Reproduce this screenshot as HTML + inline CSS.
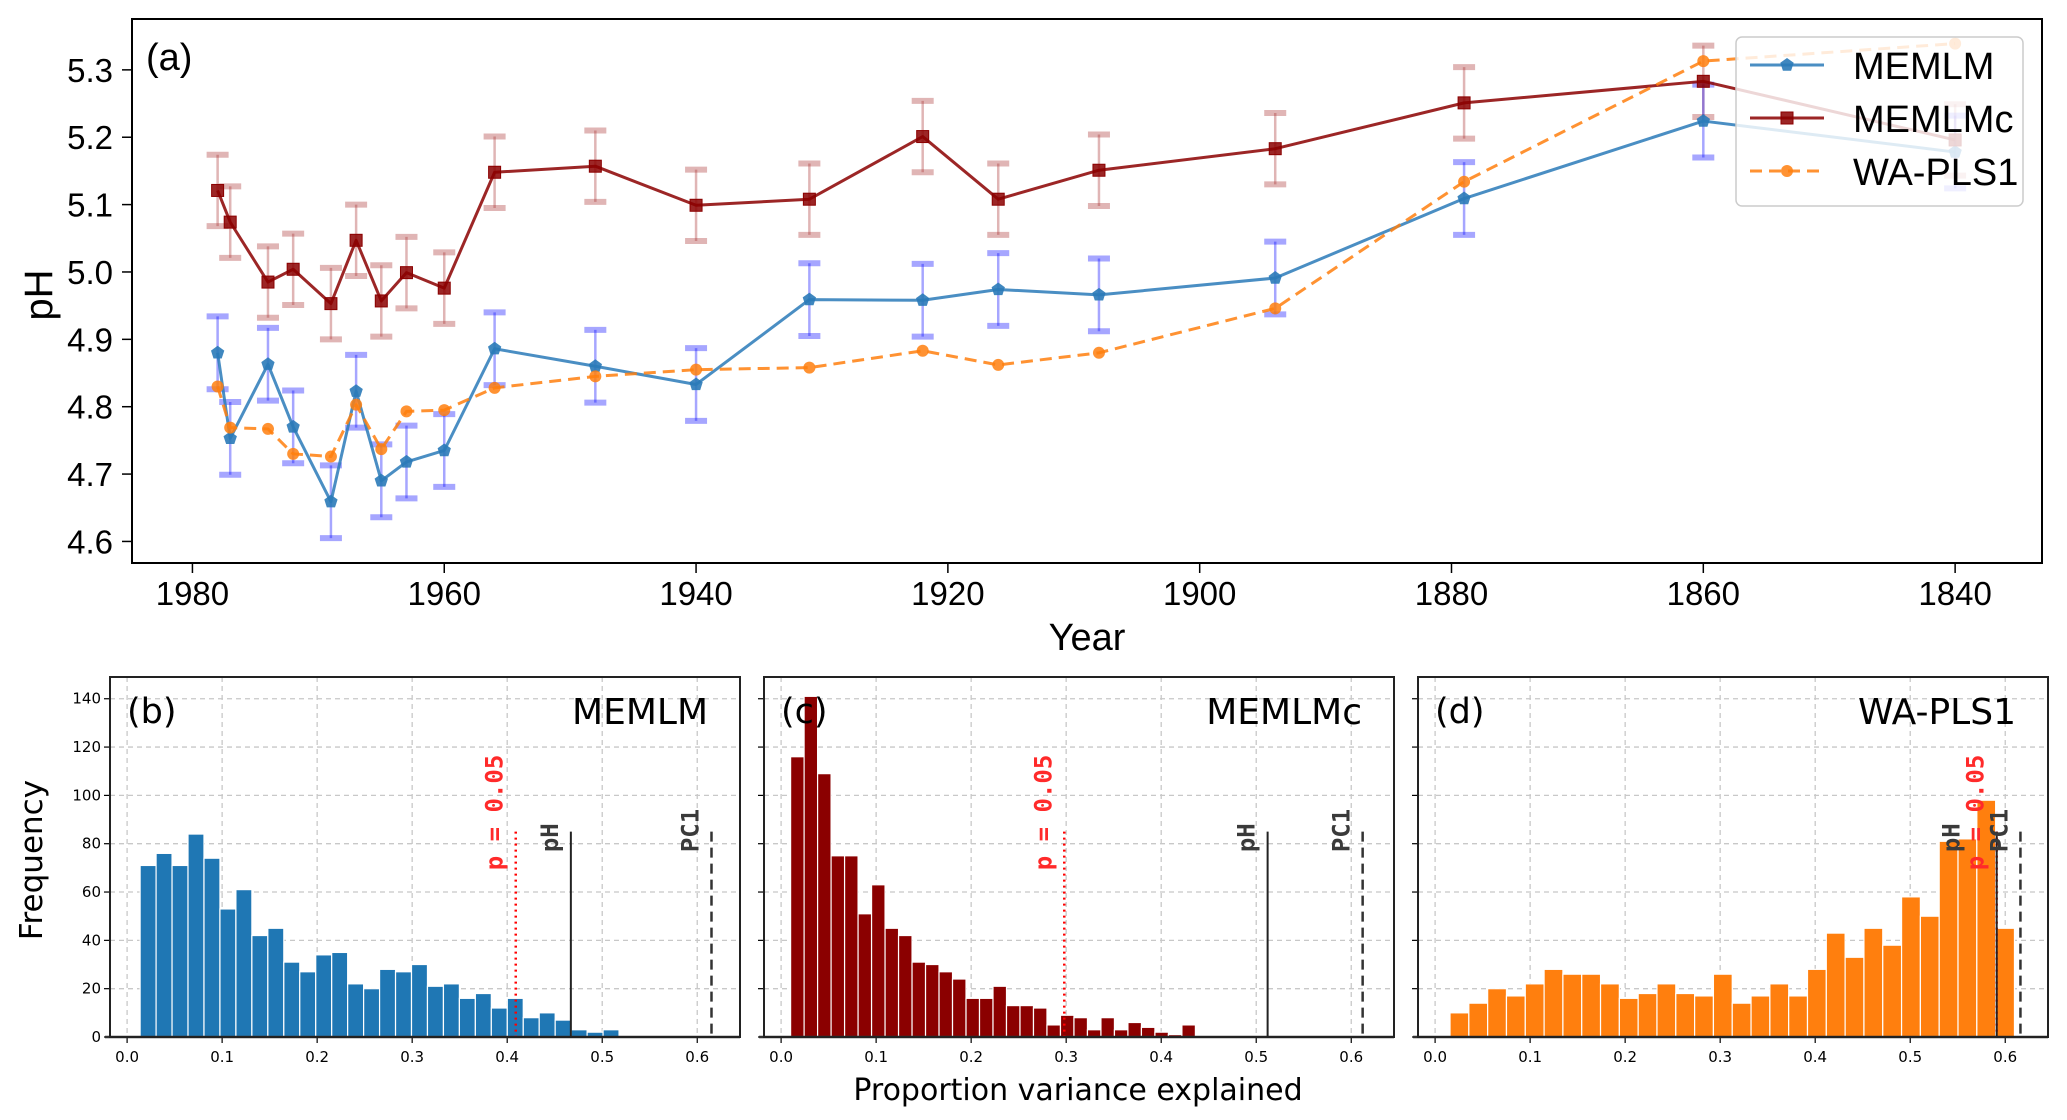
<!DOCTYPE html>
<html><head><meta charset="utf-8"><style>
html,body{margin:0;padding:0;background:#fff}
svg{display:block}
</style></head><body>
<svg id="fig" xmlns="http://www.w3.org/2000/svg" width="2067" height="1120" viewBox="0 0 2067 1120">
<g id="topG"></g>
<g id="botG"></g>
</svg>
<script>
// ---- Panel (a) data ----
const years = [1978,1977,1974,1972,1969,1967,1965,1963,1960,1956,1948,1940,1931,1922,1916,1908,1894,1879,1860,1840];
const memlm = [4.880,4.753,4.863,4.770,4.659,4.823,4.690,4.718,4.735,4.886,4.860,4.833,4.959,4.958,4.974,4.966,4.991,5.109,5.224,5.178];
const memlmc = [5.121,5.074,4.985,5.004,4.953,5.047,4.957,4.999,4.976,5.148,5.157,5.099,5.108,5.201,5.108,5.151,5.183,5.251,5.283,5.196];
const wapls = [4.830,4.769,4.767,4.730,4.726,4.803,4.737,4.793,4.795,4.828,4.845,4.855,4.858,4.883,4.862,4.880,4.946,5.134,5.313,5.339];
const memlmErr = [0.054,0.054,0.054,0.054,0.054,0.054,0.054,0.054,0.054,0.054,0.054,0.054,0.054,0.054,0.054,0.054,0.054,0.054,0.054,0.054];
const memlmcErr = [0.053,0.053,0.053,0.053,0.053,0.053,0.053,0.053,0.053,0.053,0.053,0.053,0.053,0.053,0.053,0.053,0.053,0.053,0.053,0.053];
const yearTicks = [1980,1960,1940,1920,1900,1880,1860,1840];
const phTicks = [4.6,4.7,4.8,4.9,5.0,5.1,5.2,5.3];

// ---- Histogram data ----
const histB = [71,76,71,84,74,53,61,42,45,31,27,34,35,22,20,28,27,30,21,22,16,18,12,16,8,10,7,3,2,3];
const histC = [116,141,109,75,75,51,63,45,42,31,30,27,24,16,16,21,13,13,12,5,9,8,3,8,3,6,4,2,1,5];
const histD = [10,14,20,17,22,28,26,26,22,16,18,22,18,17,26,14,17,22,17,28,43,33,45,38,58,50,81,82,98,45];
const binStartB = 0.0137, binWidthB = 0.0168;
const binStartC = 0.010, binWidthC = 0.0142;
const binStartD = 0.0157, binWidthD = 0.0198;
const markersB = [0.409, 0.467, 0.615];
const markersC = [0.298, 0.512, 0.612];
const markersD = [0.591, 0.591, 0.616];
const propTicks = [0.0,0.1,0.2,0.3,0.4,0.5,0.6];
const freqTicks = [0,20,40,60,80,100,120,140];

const NS = "http://www.w3.org/2000/svg";
function mk(parent, tag, attrs, text){
  const el = document.createElementNS(NS, tag);
  for (const k in attrs) el.setAttribute(k, attrs[k]);
  if (text !== undefined) el.textContent = text;
  parent.appendChild(el);
  return el;
}

// ===== Panel (a) =====
const topG = document.getElementById('topG');
const AX = {l:132, r:2042, t:19, b:563};
const X0 = 1984.8, X1 = 1833.1, Y0 = 4.568, Y1 = 5.3755;
function xT(yr){ return AX.l + (X0 - yr)/(X0 - X1)*(AX.r-AX.l); }
function yT(v){ return AX.t + (Y1 - v)/(Y1 - Y0)*(AX.b-AX.t); }
const F1 = '"Liberation Sans", Arial, sans-serif';

let e;
yearTicks.forEach(t=>{
  e = mk(topG,'line',{x1:xT(t),x2:xT(t),y1:AX.b,y2:AX.b+10,stroke:'#000','stroke-width':1.5});
  
  
  e = mk(topG,'text',{x:xT(t),y:605,'text-anchor':'middle','font-family':F1,'font-size':33},String(t));
  
  
});
phTicks.forEach(t=>{
  e = mk(topG,'line',{x1:AX.l-10,x2:AX.l,y1:yT(t),y2:yT(t),stroke:'#000','stroke-width':1.5});
  
  
  e = mk(topG,'text',{x:113,y:yT(t)+12,'text-anchor':'end','font-family':F1,'font-size':33},t.toFixed(1));
  
  
});
e = mk(topG,'text',{x:1087,y:650,'text-anchor':'middle','font-family':F1,'font-size':38},'Year');


e = mk(topG,'text',{x:0,y:0,'text-anchor':'middle','font-family':F1,'font-size':40,transform:'translate(52,295) rotate(-90)'},'pH');


e = mk(topG,'text',{x:146,y:70,'font-family':F1,'font-size':38},'(a)');



function errorbars(vals, errs, color, name){
  const g = mk(topG,'g',{stroke:color,'stroke-opacity':0.35,'stroke-width':2.5});
  
  
  vals.forEach((v,i)=>{
    const x = xT(years[i]), y1 = yT(v+errs[i]), y2 = yT(v-errs[i]);
    mk(g,'line',{x1:x,x2:x,y1:y1,y2:y2});
    mk(g,'line',{x1:x-11,x2:x+11,y1:y1,y2:y1,'stroke-width':6});
    mk(g,'line',{x1:x-11,x2:x+11,y1:y2,y2:y2,'stroke-width':6});
  });
}
function drawMarker(g, type, x, y, color){
  let m;
  if (type==='sq') m = mk(g,'rect',{x:x-6,y:y-6,width:12,height:12,fill:color,stroke:color,'fill-opacity':0.85});
  else if (type==='c') m = mk(g,'circle',{cx:x,cy:y,r:6,fill:color,'fill-opacity':0.85});
  else {
    const r=7, p=[];
    for (let k=0;k<5;k++){ const a=-Math.PI/2+k*2*Math.PI/5; p.push((x+r*Math.cos(a)).toFixed(1)+','+(y+r*Math.sin(a)).toFixed(1)); }
    m = mk(g,'polygon',{points:p.join(' '),fill:color,'fill-opacity':0.9});
  }
  
  
}
function series(vals, color, dash, marker, name){
  const pts = vals.map((v,i)=>xT(years[i])+','+yT(v)).join(' ');
  const g = mk(topG,'g',{});
  
  
  const attrs = {points:pts,fill:'none',stroke:color,'stroke-width':3,'stroke-opacity':0.85,'stroke-linejoin':'round'};
  if (dash) attrs['stroke-dasharray'] = dash;
  mk(g,'polyline',attrs);
  vals.forEach((v,i)=>drawMarker(g, marker, xT(years[i]), yT(v), color));
}
errorbars(memlmc, memlmcErr, '#a52a2a', 'memlmc-errorbars');
errorbars(memlm, memlmErr, '#0000ff', 'memlm-errorbars');
series(memlm, '#2a7ab8', null, 'pent', 'memlm-series');
series(memlmc, '#8b0000', null, 'sq', 'memlmc-series');
series(wapls, '#ff7f0e', '12,7', 'c', 'wapls1-series');

e = mk(topG,'rect',{x:AX.l,y:AX.t,width:AX.r-AX.l,height:AX.b-AX.t,fill:'none',stroke:'#000','stroke-width':2});



// legend
const leg = mk(topG,'g',{});


mk(leg,'rect',{x:1736,y:37,width:287,height:169,rx:6,fill:'#fff','fill-opacity':0.82,stroke:'#ccc','stroke-width':1.5});
const legItems = [['MEMLM','#2a7ab8',null,'pent',65],['MEMLMc','#8b0000',null,'sq',118],['WA-PLS1','#ff7f0e','12,7','c',171]];
legItems.forEach(it=>{
  const g = mk(leg,'g',{});
  
  
  const a = {x1:1750,x2:1824,y1:it[4],y2:it[4],stroke:it[1],'stroke-width':3,'stroke-opacity':0.85};
  if (it[2]) a['stroke-dasharray']=it[2];
  mk(g,'line',a);
  drawMarker(g,it[3],1787,it[4],it[1]);
  mk(g,'text',{x:1853,y:it[4]+14,'font-family':F1,'font-size':38},it[0]);
});

// ===== Histograms =====
const botG = document.getElementById('botG');
const F2 = '"DejaVu Sans", "Liberation Sans", sans-serif';
const FM = '"DejaVu Sans Mono", "Liberation Mono", monospace';
const HB = {t:677, b:1037, w:630, xmin:-0.018, xmax:0.645, ymax:149};
function panel(left, counts, start, width, color, markers, title, label, name, showY, pHLabelShift){
  const g = mk(botG,'g',{});
  
  
  const hx = v => left + (v - HB.xmin)/(HB.xmax-HB.xmin)*HB.w;
  const hy = c => HB.b - c/HB.ymax*(HB.b-HB.t);
  propTicks.forEach(t=>{
    e = mk(g,'line',{x1:hx(t),x2:hx(t),y1:HB.t,y2:HB.b,stroke:'#c8c8c8','stroke-width':1.3,'stroke-dasharray':'5,4'});
    
    
    e = mk(g,'line',{x1:hx(t),x2:hx(t),y1:HB.b,y2:HB.b+6,stroke:'#000','stroke-width':1.2});
    
    
    e = mk(g,'text',{x:hx(t),y:1062,'text-anchor':'middle','font-family':F2,'font-size':15},t.toFixed(1));
    
    
  });
  freqTicks.forEach(t=>{
    e = mk(g,'line',{x1:left,x2:left+HB.w,y1:hy(t),y2:hy(t),stroke:'#c8c8c8','stroke-width':1.3,'stroke-dasharray':'5,4'});
    
    
    e = mk(g,'line',{x1:left-6,x2:left,y1:hy(t),y2:hy(t),stroke:'#000','stroke-width':1.2});
    
    
    if (showY){
      e = mk(g,'text',{x:left-9,y:hy(t)+5,'text-anchor':'end','font-family':F2,'font-size':15},String(t));
      
      
    }
  });
  counts.forEach((c,i)=>{
    const x0 = hx(start+i*width), x1 = hx(start+(i+1)*width);
    e = mk(g,'rect',{x:x0,y:hy(c),width:x1-x0,height:hy(0)-hy(c),fill:color,stroke:'#fff','stroke-width':1.2});
    
    
  });
  e = mk(g,'line',{x1:left-5,x2:left+HB.w,y1:HB.b,y2:HB.b,stroke:'#333','stroke-width':2.5});
  
  
  const mtop = hy(85);
  e = mk(g,'line',{x1:hx(markers[0]),x2:hx(markers[0]),y1:mtop,y2:HB.b,stroke:'#ff0000','stroke-width':2.5,'stroke-dasharray':'2,4'});
  
  
  e = mk(g,'line',{x1:hx(markers[1]),x2:hx(markers[1]),y1:mtop,y2:HB.b,stroke:'#222','stroke-width':2});
  
  
  e = mk(g,'line',{x1:hx(markers[2]),x2:hx(markers[2]),y1:mtop,y2:HB.b,stroke:'#333','stroke-width':2.5,'stroke-dasharray':'10,6'});
  
  
  const lbl = (txt, v, shift, cnt, col, nm)=>{
    const x = hx(v)+shift+8, y = hy(cnt);
    const t = mk(g,'text',{x:0,y:0,'font-family':FM,'font-size':24,'font-weight':'bold',fill:col,transform:'translate('+x+','+y+') rotate(-90)'},txt);
    
    
  };
  lbl('p = 0.05', markers[0], -21, 69, '#ff2a2a', 'p005-label');
  lbl('pH', markers[1], -21+pHLabelShift, 76.5, '#3a3a3a', 'ph-label');
  lbl('PC1', markers[2], -21, 76.5, '#3a3a3a', 'pc1-label');
  e = mk(g,'rect',{x:left,y:HB.t,width:HB.w,height:HB.b-HB.t,fill:'none',stroke:'#222','stroke-width':2});
  
  
  e = mk(g,'text',{x:left+17,y:723,'font-family':F2,'font-size':35},label);
  
  
  e = mk(g,'text',{x:left+HB.w-32,y:724,'text-anchor':'end','font-family':F2,'font-size':36},title);
  
  
}
panel(110, histB, binStartB, binWidthB, '#1f77b4', markersB, 'MEMLM', '(b)', 'histogram-memlm', true, 0);
panel(764, histC, binStartC, binWidthC, '#8b0000', markersC, 'MEMLMc', '(c)', 'histogram-memlmc', false, 0);
panel(1418, histD, binStartD, binWidthD, '#ff7f0e', markersD, 'WA-PLS1', '(d)', 'histogram-wapls1', false, -24);

e = mk(botG,'text',{x:1078,y:1100,'text-anchor':'middle','font-family':F2,'font-size':30},'Proportion variance explained');


e = mk(botG,'text',{x:0,y:0,'text-anchor':'middle','font-family':F2,'font-size':31,transform:'translate(42,860) rotate(-90)'},'Frequency');


</script>
</body></html>
